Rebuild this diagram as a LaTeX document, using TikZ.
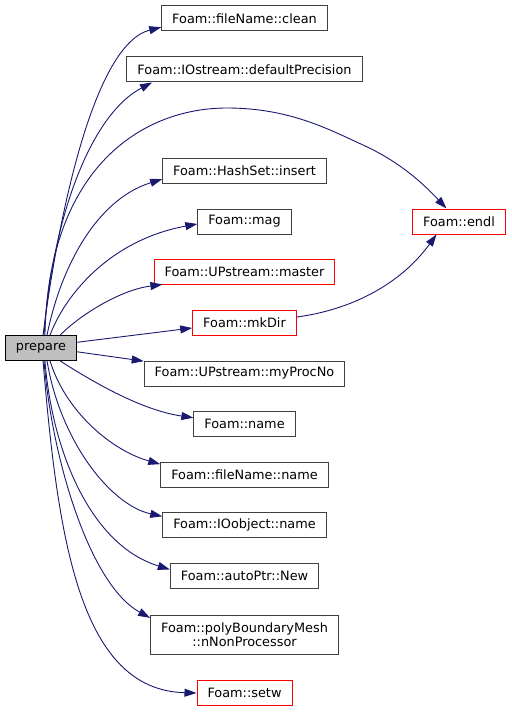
\documentclass[tikz,border=0pt]{standalone}
\usepackage{fontspec}
\setmainfont{DejaVu Sans}
\usetikzlibrary{arrows.meta}
\definecolor{edgeblue}{HTML}{191970}
\definecolor{boxgray}{HTML}{404040}
\definecolor{linkred}{HTML}{FF0000}
\definecolor{rootfill}{HTML}{BFBFBF}

\begin{document}
\begin{tikzpicture}[x=1bp,y=-1bp,>={Triangle[length=12bp,width=8bp]},
  func/.style={draw=boxgray,line width=1bp,minimum height=25bp,inner xsep=10.5bp,inner ysep=2bp,
    font=\fontsize{12.9}{14}\selectfont},
  funcred/.style={func,draw=linkred},
  root/.style={func,fill=rootfill,draw=black},
  call/.style={->,draw=edgeblue,line width=0.9bp}]
\useasboundingbox (0,0) rectangle (512,712);

% caller
\node[root] (prep) at (41,348) {prepare};

% callees
\node[func] (clean) at (244.5,18.5) {Foam::fileName::clean};
\node[func] (defprec) at (244.5,69.5) {Foam::IOstream::defaultPrecision};
\node[func] (insert) at (244.5,170.5) {Foam::HashSet::insert};
\node[func] (mag) at (244.5,221.5) {Foam::mag};
\node[funcred] (endl) at (459,221.5) {Foam::endl};
\node[funcred] (master) at (244.5,271.5) {Foam::UPstream::master};
\node[funcred] (mkdir) at (244.5,322.5) {Foam::mkDir};
\node[func] (myproc) at (244.5,373.5) {Foam::UPstream::myProcNo};
\node[func] (name) at (244.5,424) {Foam::name};
\node[func] (fname) at (244.5,474.5) {Foam::fileName::name};
\node[func] (ioname) at (244.5,525) {Foam::IOobject::name};
\node[func] (newptr) at (244.5,576) {Foam::autoPtr::New};
\node[func,align=center,minimum height=39bp] (nonproc) at (244.5,634.5) {Foam::polyBoundaryMesh\\::nNonProcessor};
\node[funcred] (setw) at (244.5,693) {Foam::setw};

% calls going up
\draw[call] (prep.81) .. controls (55,240) and (90,45) .. (clean.186);
\draw[call] (prep.77) .. controls (52,220) and (90,115) .. (defprec.188);
\draw[call] (prep.73) .. controls (48,170) and (140,108) .. (227,108)
  .. controls (290,108) and (330,130) .. (363,145)
  .. controls (396,160) and (420,180) .. (endl.134);
\draw[call] (prep.65) .. controls (60,270) and (95,200) .. (insert.186);
\draw[call] (prep.55) .. controls (65,295) and (110,240) .. (mag.183);
\draw[call] (prep.34) .. controls (80,315) and (120,290) .. (master.189);
\draw[call] (prep.9) -- (mkdir.186);
\draw[call] (mkdir.6) .. controls (350,310) and (400,285) .. (endl.210);

% calls going down
\draw[call] (prep.354) -- (myproc.173);
\draw[call] (prep.326) .. controls (90,380) and (140,410) .. (name.173);
\draw[call] (prep.305) .. controls (65,410) and (110,450) .. (fname.173);
\draw[call] (prep.295) .. controls (60,440) and (110,505) .. (ioname.174);
\draw[call] (prep.287) .. controls (52,450) and (90,545) .. (newptr.175);
\draw[call] (prep.283) .. controls (52,460) and (90,585) .. (nonproc.170);
\draw[call] (prep.279) .. controls (58,540) and (80,690) .. (setw.180);
\end{tikzpicture}
\end{document}
